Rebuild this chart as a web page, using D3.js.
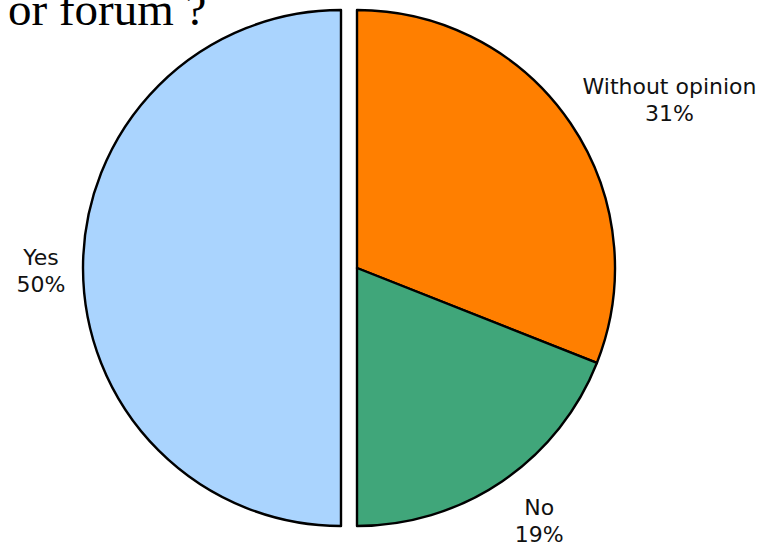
<!DOCTYPE html>
<html><head><meta charset="utf-8">
<script src="https://cdn.jsdelivr.net/npm/d3@7"></script>
<style>html,body{margin:0;padding:0;background:#fff;}svg{display:block;}</style>
</head><body>
<svg id="chart" width="776" height="546"></svg>
<script>
const categories = ["Without opinion", "No", "Yes"];
const values = [31, 19, 50];
const colors = ["#ff7f00", "#40a67a", "#aad4fe"];
const exploded = [false, false, true];
const titleLine = "or forum ?";

const svg = d3.select("#chart");
const cx = 357, cy = 268, r = 258, explode = 16, labelR = 303;

svg.append("text").attr("x", 8).attr("y", 25)
  .attr("font-family", "Liberation Serif, serif").attr("font-size", 47)
  .attr("fill", "#000").text(titleLine);

const pie = d3.pie().sort(null).value(d => d)(values);
const arc = d3.arc().innerRadius(0).outerRadius(r);
const g = svg.append("g").attr("transform", `translate(${cx},${cy})`);

g.selectAll("path").data(pie).join("path")
  .attr("d", arc)
  .attr("transform", (d, i) => {
    if (!exploded[i]) return null;
    const a = (d.startAngle + d.endAngle) / 2;
    return `translate(${Math.sin(a) * explode},${-Math.cos(a) * explode})`;
  })
  .attr("fill", (d, i) => colors[i])
  .attr("stroke", "#000").attr("stroke-width", 2.4).attr("stroke-linejoin", "round");

pie.forEach((d, i) => {
  const a = (d.startAngle + d.endAngle) / 2;
  const off = exploded[i] ? explode : 0;
  let x = Math.sin(a) * (labelR + off);
  const y = -Math.cos(a) * labelR;
  const t = g.append("text").attr("text-anchor", "middle")
    .attr("font-family", "DejaVu Sans, Verdana, sans-serif").attr("font-size", 22)
    .attr("fill", "#111");
  t.append("tspan").attr("x", 0).attr("dy", "-0.15em").text(categories[i]);
  t.append("tspan").attr("x", 0).attr("dy", "1.22em").text(values[i] + "%");
  const w = t.node().getBBox().width;
  if (Math.sin(a) > 0) x += Math.sin(a) * w * 0.43;
  else x += 3;
  t.attr("transform", `translate(${x},${y})`);
});
</script>
</body></html>
